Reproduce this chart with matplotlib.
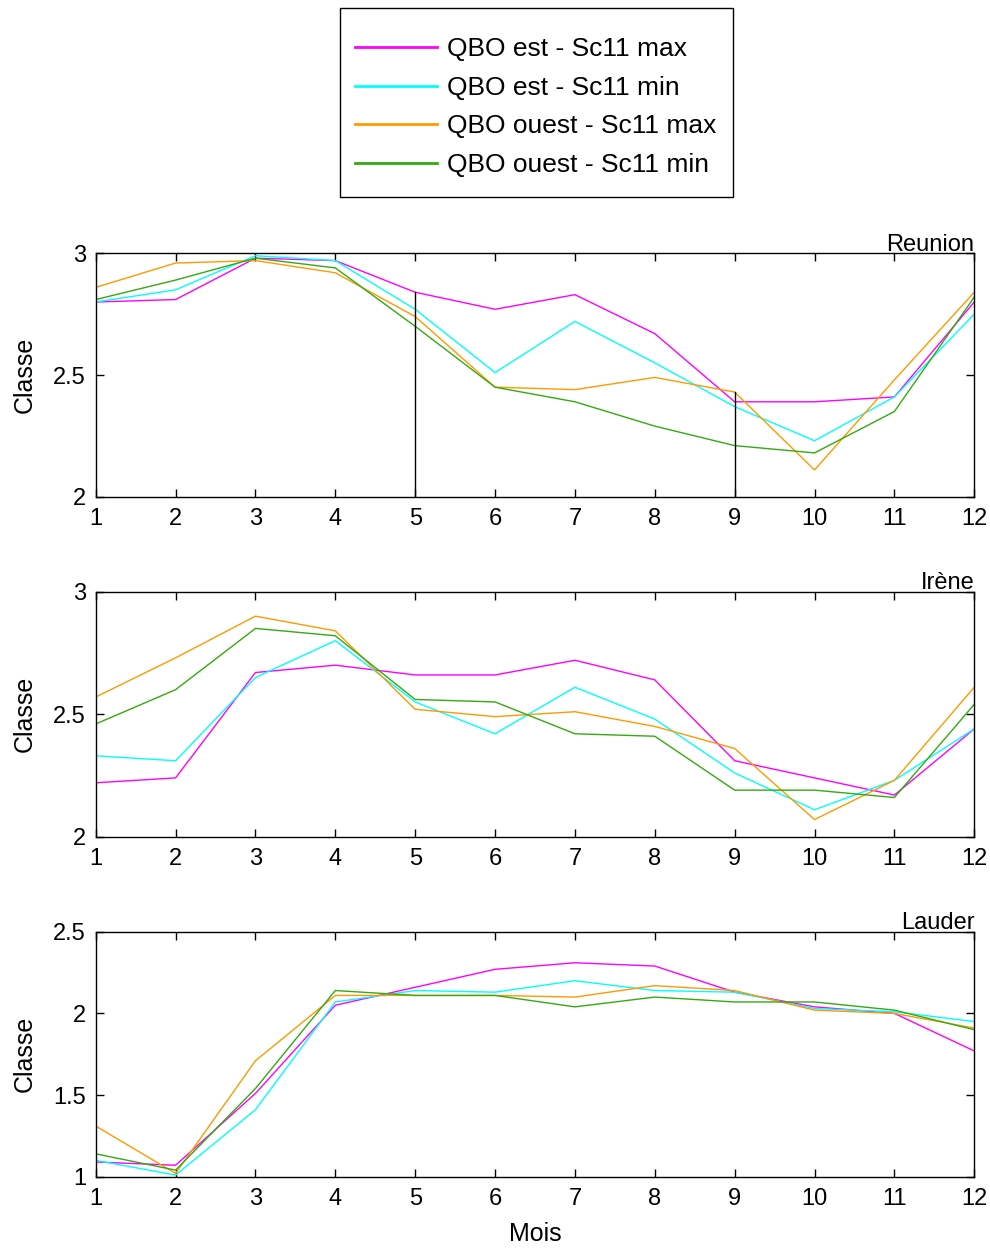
import numpy as np
import matplotlib
matplotlib.use('Agg')
import matplotlib.pyplot as plt
from matplotlib.patches import Rectangle

months = np.arange(1, 13)
labels = ['QBO est - Sc11 max', 'QBO est - Sc11 min',
          'QBO ouest - Sc11 max', 'QBO ouest - Sc11 min']
colors = ['#ff00ff', '#00ffff', '#ff9900', '#33aa11']

# Reunion
reu_est_max = [2.80, 2.81, 2.98, 2.97, 2.84, 2.77, 2.83, 2.67, 2.39, 2.39, 2.41, 2.80]
reu_est_min = [2.80, 2.85, 2.99, 2.97, 2.77, 2.51, 2.72, 2.55, 2.37, 2.23, 2.41, 2.75]
reu_oue_max = [2.86, 2.96, 2.97, 2.92, 2.74, 2.45, 2.44, 2.49, 2.43, 2.11, 2.48, 2.84]
reu_oue_min = [2.81, 2.89, 2.98, 2.94, 2.70, 2.45, 2.39, 2.29, 2.21, 2.18, 2.35, 2.82]
# vertical markers (month, top value)
reu_marks = [(5, 2.84), (9, 2.43)]

# Irene
ire_est_max = [2.22, 2.24, 2.67, 2.70, 2.66, 2.66, 2.72, 2.64, 2.31, 2.24, 2.17, 2.44]
ire_est_min = [2.33, 2.31, 2.65, 2.80, 2.55, 2.42, 2.61, 2.48, 2.26, 2.11, 2.23, 2.44]
ire_oue_max = [2.57, 2.73, 2.90, 2.84, 2.52, 2.49, 2.51, 2.45, 2.36, 2.07, 2.23, 2.61]
ire_oue_min = [2.46, 2.60, 2.85, 2.82, 2.56, 2.55, 2.42, 2.41, 2.19, 2.19, 2.16, 2.54]

# Lauder
lau_est_max = [1.09, 1.07, 1.51, 2.05, 2.16, 2.27, 2.31, 2.29, 2.13, 2.04, 2.00, 1.77]
lau_est_min = [1.10, 1.01, 1.41, 2.07, 2.14, 2.13, 2.20, 2.14, 2.13, 2.03, 2.01, 1.95]
lau_oue_max = [1.31, 1.02, 1.71, 2.11, 2.11, 2.11, 2.10, 2.17, 2.14, 2.02, 2.00, 1.91]
lau_oue_min = [1.14, 1.04, 1.54, 2.14, 2.11, 2.11, 2.04, 2.10, 2.07, 2.07, 2.02, 1.90]

panels = [
    ('Reunion', [reu_est_max, reu_est_min, reu_oue_max, reu_oue_min], (2, 3), [2, 2.5, 3], ['2', '2.5', '3']),
    ('Irène', [ire_est_max, ire_est_min, ire_oue_max, ire_oue_min], (2, 3), [2, 2.5, 3], ['2', '2.5', '3']),
    ('Lauder', [lau_est_max, lau_est_min, lau_oue_max, lau_oue_min], (1, 2.5), [1, 1.5, 2, 2.5], ['1', '1.5', '2', '2.5']),
]

plt.rcParams['font.family'] = ['Liberation Sans', 'DejaVu Sans']
plt.rcParams['font.size'] = 17

fig = plt.figure(figsize=(9.9, 12.49), dpi=100)
positions = [[0.0967, 0.6023, 0.8874, 0.1949],
             [0.0967, 0.3301, 0.8874, 0.1962],
             [0.0967, 0.0579, 0.8874, 0.1961]]

axs = []
for pos, (name, series, ylim, yt, ytl) in zip(positions, panels):
    ax = fig.add_axes(pos)
    for s, c, l in zip(series, colors, labels):
        ax.plot(months, s, color=c, linewidth=1.0, label=l)
    ax.set_xlim(1, 12)
    ax.set_ylim(*ylim)
    ax.set_xticks(months)
    ax.set_xticklabels([str(m) for m in months])
    ax.set_yticks(yt)
    ax.set_yticklabels(ytl)
    ax.tick_params(direction='in', length=6, width=1, top=True, right=True)
    ax.tick_params(axis='x', pad=8)
    ax.tick_params(axis='y', pad=7)
    for sp in ax.spines.values():
        sp.set_linewidth(1.0)
    ax.set_ylabel('Classe', labelpad=12, fontsize=18)
    ax.set_title(name, loc='right', pad=2, fontsize=17)
    axs.append(ax)

for m, top in reu_marks:
    axs[0].plot([m, m], [2, top], color='k', linewidth=1.0)

axs[2].set_xlabel('Mois', labelpad=9, fontsize=18)

# legend box drawn separately so the padding matches
fig.patches.append(Rectangle((340 / 990, 1 - 197 / 1249), 393 / 990, 189 / 1249,
                             transform=fig.transFigure, fill=False,
                             edgecolor='k', linewidth=1.0))
handles, labs = axs[0].get_legend_handles_labels()
leg = fig.legend(handles[:4], labs[:4], loc='center left',
                 bbox_to_anchor=(355 / 990, 1 - 107 / 1249),
                 frameon=False, handlelength=3.1, handletextpad=0.38,
                 labelspacing=0.55, borderpad=0, borderaxespad=0, fontsize=19)
for ln in leg.get_lines():
    ln.set_linewidth(2.0)

fig.savefig('out.png', dpi=100)
